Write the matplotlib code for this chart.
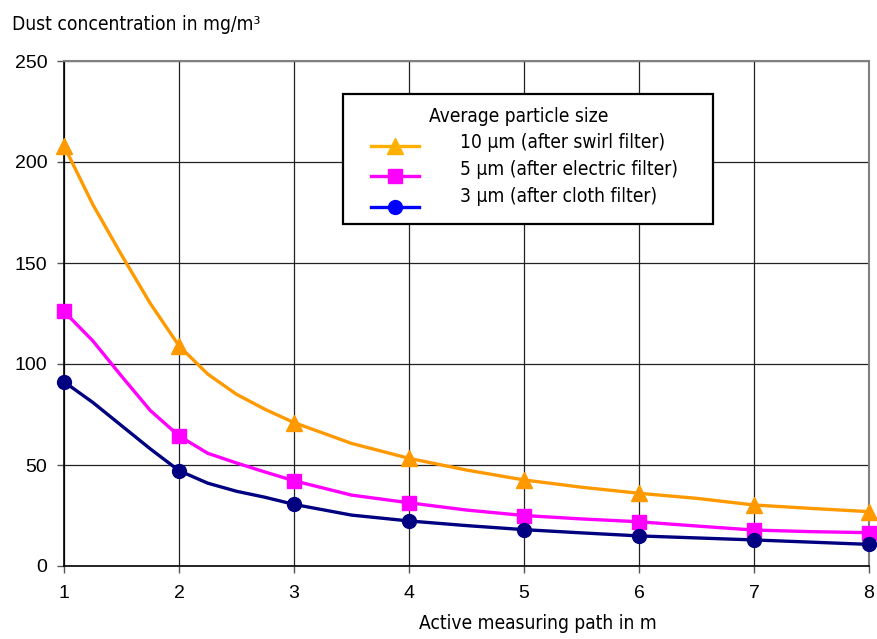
import matplotlib
matplotlib.use("Agg")
import matplotlib.pyplot as plt
from matplotlib import font_manager as fm
from matplotlib.lines import Line2D
from matplotlib.patches import Rectangle

# ---------------- data ----------------
path_m = [1, 1.25, 1.5, 1.75, 2, 2.25, 2.5, 2.75, 3, 3.5, 4, 4.5, 5, 5.5, 6, 6.5, 7, 7.5, 8]
swirl_10um = [208, 179, 154, 130, 109, 95, 85, 77.5, 71, 60.7, 53.3, 47.5, 42.6, 39, 36, 33.5, 30.2, 28.5, 26.9]
electric_5um = [126, 111.5, 94, 77, 64.4, 55.8, 51, 46.5, 42.2, 35.1, 31.3, 27.7, 25, 23.3, 21.9, 19.8, 17.8, 17, 16.5]
cloth_3um = [91.2, 81, 69.5, 58, 47.2, 41, 37, 34, 30.5, 25.2, 22.3, 20, 18, 16.4, 14.9, 13.9, 12.9, 11.8, 10.7]
x_ticks = [1, 2, 3, 4, 5, 6, 7, 8]
y_ticks = [0, 50, 100, 150, 200, 250]
legend_title = "Average particle size"
legend_labels = ["10 µm (after swirl filter)", "5 µm (after electric filter)", "3 µm (after cloth filter)"]
y_label = "Dust concentration in mg/m³"
x_label = "Active measuring path in m"

# ---------------- fonts ----------------
names = {f.name for f in fm.fontManager.ttflist}
if "Liberation Sans Narrow" in names:
    narrow = dict(family=["Liberation Sans Narrow", "DejaVu Sans"])
    nsize = 15
else:
    narrow = dict(family=["DejaVu Sans"], stretch="condensed")
    nsize = 13.8

W, H = 877, 639
fig = plt.figure(figsize=(W / 100, H / 100), dpi=100)
L, R, T, B = 64, 869, 61, 566
ax = fig.add_axes([L / W, 1 - B / H, (R - L) / W, (B - T) / H])

marker_idx = [i for i, v in enumerate(path_m) if float(v).is_integer()]

ax.plot(path_m, swirl_10um, color="#FF9900", lw=2.4, marker="^", ms=11,
        markevery=marker_idx, clip_on=False, zorder=3)
ax.plot(path_m, electric_5um, color="#FF00FF", lw=2.4, marker="s", ms=10,
        markevery=marker_idx, clip_on=False, zorder=3)
ax.plot(path_m, cloth_3um, color="#000080", lw=2.4, marker="o", ms=10,
        markevery=marker_idx, clip_on=False, zorder=3)

ax.set_xlim(1, 8)
ax.set_ylim(0, 250)
ax.set_xticks(x_ticks)
ax.set_yticks(y_ticks)
ax.grid(True, color="#222222", lw=0.9)
ax.set_axisbelow(True)
for s in ("left", "bottom"):
    ax.spines[s].set_color("black")
    ax.spines[s].set_linewidth(1.2)
for s in ("top", "right"):
    ax.spines[s].set_color("#808080")
    ax.spines[s].set_linewidth(1.5)
ax.tick_params(axis="both", labelsize=14, labelfontfamily="Liberation Sans")
ax.tick_params(axis="y", length=5, width=1, pad=7, color="#555555")
ax.tick_params(axis="x", length=5, width=1, pad=9, color="#555555")

fig.text(12 / W, 1 - 30 / H, y_label, ha="left", va="baseline", fontsize=nsize, **narrow)
fig.text(538 / W, 1 - 629 / H, x_label, ha="center", va="baseline", fontsize=nsize, **narrow)

# ---------------- legend (manual, Excel style) ----------------
bx0, by0, bx1, by1 = 343, 94, 713, 224
fig.patches.append(Rectangle((bx0 / W, 1 - by1 / H), (bx1 - bx0) / W, (by1 - by0) / H,
                             transform=fig.transFigure, facecolor="white",
                             edgecolor="black", lw=1.6, zorder=5))
fig.text(429 / W, 1 - 121.5 / H, legend_title, ha="left", va="baseline",
         fontsize=nsize, zorder=6, **narrow)
leg_colors = ["#FFB000", "#FF00FF", "#0000FF"]
leg_markers = ["^", "s", "o"]
leg_ms = [11, 10, 10]
handle_y = [146, 176, 207]
text_y = [148, 174.5, 201.5]
for c, m, ms, hy, ty, lab in zip(leg_colors, leg_markers, leg_ms, handle_y, text_y, legend_labels):
    ln = Line2D([371 / W, 419 / W], [1 - hy / H, 1 - hy / H], transform=fig.transFigure,
                color=c, lw=2.4, zorder=6)
    mk = Line2D([395 / W], [1 - hy / H], transform=fig.transFigure, color=c,
                marker=m, ms=ms, lw=0, zorder=7)
    fig.lines.extend([ln, mk])
    fig.text(460 / W, 1 - ty / H, lab, ha="left", va="baseline", fontsize=nsize, zorder=6, **narrow)

fig.savefig("out.png", dpi=100)
